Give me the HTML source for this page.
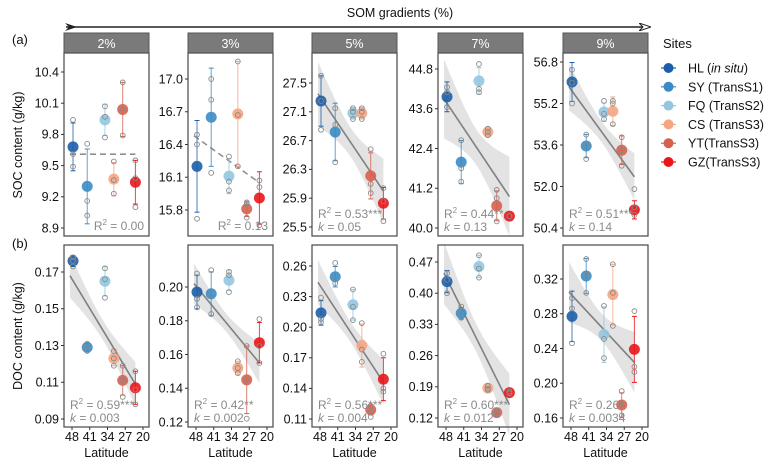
<!DOCTYPE html>
<html><head><meta charset="utf-8">
<style>
body{margin:0;background:#fff;}
svg text{font-family:"Liberation Sans",Arial,sans-serif;}
</style></head>
<body>
<svg id="chart" width="768" height="465" viewBox="0 0 768 465" xmlns="http://www.w3.org/2000/svg">
<defs>
<marker id="ah" markerWidth="12" markerHeight="8" refX="11" refY="4" orient="auto" markerUnits="userSpaceOnUse"><path d="M0,0 L12,4 L0,8 L4,4 Z" fill="#fff" stroke="#222" stroke-width="1"/></marker>
<marker id="at" markerWidth="12" markerHeight="8" refX="1" refY="4" orient="auto" markerUnits="userSpaceOnUse"><path d="M0,0 L12,4 L0,8 L4,4 Z" fill="#222"/></marker>
</defs>
<text x="400" y="17" font-size="12.5" text-anchor="middle" fill="#111">SOM gradients (%)</text>
<line x1="66" y1="27" x2="650" y2="27" stroke="#222" stroke-width="1.5" marker-end="url(#ah)" marker-start="url(#at)"/>
<text x="12" y="44" font-size="13" fill="#111">(a)</text>
<text x="12" y="248" font-size="13" fill="#111">(b)</text>
<text transform="translate(22,145) rotate(-90)" font-size="12.5" text-anchor="middle" fill="#111">SOC content (g/kg)</text>
<text transform="translate(22,336) rotate(-90)" font-size="12.5" text-anchor="middle" fill="#111">DOC content (g/kg)</text>
<g id="plots"></g>
<g id="legend"></g>
</svg>
<script>
const siteNames = ["HL","SY (TransS1)","FQ (TransS2)","CS (TransS3)","YT(TransS3)","GZ(TransS3)"];
const siteColors = ["#1d5ea8","#3b8cc4","#94c6e0","#f4a582","#d6604d","#e8161b"];
const siteLat = [47.6, 42, 35, 31.5, 28, 23];
const latTicks = [48,41,34,27,20];
const gradients = ["2%","3%","5%","7%","9%"];

// SOC (top row)
const socTicks = [[10.4,10.1,9.8,9.5,9.2,8.9],[17.0,16.7,16.4,16.1,15.8],[27.5,27.1,26.7,26.3,25.9,25.5],[44.8,43.6,42.4,41.2,40.0],[56.8,55.2,53.6,52.0,50.4]];
const socMeans = [[9.68,9.30,9.94,9.37,10.04,9.34],[16.20,16.65,16.11,16.68,15.81,15.91],[27.25,26.82,27.08,27.08,26.21,25.83],[43.96,41.99,44.44,42.90,40.67,40.36],[56.03,53.56,54.87,54.90,53.40,51.10]];
const socErr = [[0.23,0.36,0.15,0.16,0.26,0.21],[0.42,0.45,0.16,0.48,0.07,0.24],[0.35,0.40,0.08,0.08,0.32,0.22],[0.45,0.65,0.40,0.10,0.45,0.05],[0.75,0.45,0.35,0.55,0.55,0.35]];
const socRaw = [
 [[9.94,9.61,9.49],[9.71,9.16,9.02],[10.07,9.97,9.77],[9.54,9.36,9.23],[10.30,10.04,9.79],[9.55,9.38,9.10]],
 [[16.49,16.40,15.72],[17.00,16.81,16.14],[16.29,16.06,15.98],[17.16,16.67,16.20],[15.87,15.85,15.73],[16.07,16.01,15.66]],
 [[27.60,27.25,26.85],[27.15,26.92,26.40],[27.15,27.10,27.00],[27.15,27.10,27.00],[26.58,26.10,25.97],[26.04,25.86,25.58]],
 [[44.25,44.10,43.65],[42.65,41.80,41.40],[44.95,44.20,44.10],[43.00,42.90,42.80],[41.15,40.90,40.20],[40.36,40.36,40.36]],
 [[56.50,56.00,55.20],[54.00,53.60,53.06],[55.30,54.60,54.80],[55.30,55.20,54.40],[53.90,53.40,52.80],[51.90,51.20,50.90]]];
const socTrend = [[9.61,9.61],[16.48,16.05],[27.35,26.00],[43.90,40.95],[55.84,52.37]];
const socBand = [0,0,0.45,1.2,0.9];
const socR2 = ["0.00","0.13","0.53***","0.44**","0.51***"];
const socK = [null,null,"0.05","0.13","0.14"];

// DOC (bottom row)
const docTicks = [[0.17,0.15,0.13,0.11,0.09],[0.20,0.18,0.16,0.14,0.12],[0.26,0.23,0.20,0.17,0.14,0.11],[0.47,0.40,0.33,0.26,0.19,0.12],[0.32,0.28,0.24,0.20,0.16]];
const docMeans = [[0.176,0.129,0.165,0.123,0.111,0.107],[0.197,0.196,0.204,0.152,0.145,0.167],[0.214,0.2495,0.222,0.182,0.119,0.149],[0.426,0.355,0.460,0.187,0.132,0.177],[0.277,0.3235,0.256,0.302,0.175,0.239]];
const docErr = [[0.003,0.002,0.008,0.004,0.008,0.009],[0.010,0.013,0.006,0.004,0.020,0.012],[0.012,0.010,0.015,0.021,0.005,0.021],[0.025,0.013,0.025,0.004,0.004,0.003],[0.029,0.020,0.032,0.035,0.014,0.038]];
const docRaw = [
 [[0.178,0.176,0.173],[0.131,0.129,0.127],[0.172,0.166,0.156],[0.127,0.123,0.119],[0.119,0.111,0.102],[0.116,0.106,0.098]],
 [[0.208,0.193,0.188],[0.210,0.195,0.184],[0.209,0.207,0.197],[0.156,0.152,0.149],[0.165,0.145,0.122],[0.181,0.165,0.155]],
 [[0.229,0.208,0.205],[0.263,0.247,0.243],[0.237,0.220,0.207],[0.204,0.178,0.166],[0.123,0.117,0.112],[0.174,0.140,0.137]],
 [[0.445,0.430,0.400],[0.370,0.355,0.345],[0.485,0.455,0.435],[0.192,0.186,0.183],[0.136,0.130,0.128],[0.180,0.177,0.175]],
 [[0.298,0.286,0.246],[0.343,0.325,0.304],[0.289,0.251,0.229],[0.337,0.304,0.266],[0.191,0.175,0.163],[0.283,0.219,0.213]]];
const docTrend = [[0.168,0.109],[0.202,0.155],[0.244,0.146],[0.445,0.150],[0.305,0.224]];
const docBand = [0.012,0.012,0.022,0.07,0.035];
const docR2 = ["0.59***","0.42**","0.56***","0.60***","0.26*"];
const docK = ["0.003","0.002","0.004","0.012","0.0034"];

// layout (not data)
const NS="http://www.w3.org/2000/svg";
const panelLeft=[64,188,312,438,563], panelW=85;
const rows=[{top:53,bot:236,tickPx:[[72,228],[79,210],[83,227],[69,228],[62,228]]},
            {top:245,bot:427,tickPx:[[272,419],[287,422],[266,419],[262,418],[279,418]]}];
function el(tag,attrs,parent){const e=document.createElementNS(NS,tag);for(const k in attrs)e.setAttribute(k,attrs[k]);parent.appendChild(e);return e;}
const plots=document.getElementById('plots');
function xScale(p,lat){return panelLeft[p]+8+(48-lat)*71/28;}

function drawPanel(r,p,ticks,means,errs,raw,trend,band,r2,k,dashed){
  const row=rows[r];
  const t0=ticks[0], t1=ticks[ticks.length-1], px=row.tickPx[p];
  const y=v=>px[0]+(t0-v)*(px[1]-px[0])/(t0-t1);
  const x=l=>xScale(p,l);
  const g=el('g',{},plots);
  
  
  const L=panelLeft[p];
  if(r===0){
    const s=el('rect',{x:L,y:33,width:panelW,height:20,fill:'#7a7a7a',stroke:'#555','stroke-width':1},g);
    
    
    const st=el('text',{x:L+panelW/2,y:48,'font-size':12.5,fill:'#fff','text-anchor':'middle'},g);
    st.textContent=gradients[p];
    
    
  }
  // band
  const la=48.8, lb=siteLat[5];
  if(band>0){
    let up=[],dn=[];
    for(let i=0;i<=20;i++){
      const l=la+(lb-la)*i/20, f=i/20;
      const v=trend[0]+(trend[1]-trend[0])*f;
      const w=band*Math.sqrt(0.25+Math.pow((f-0.5)*2,2))/1.12;
      up.push(x(l).toFixed(1)+','+y(v+w).toFixed(1));
      dn.unshift(x(l).toFixed(1)+','+y(v-w).toFixed(1));
    }
    const b=el('polygon',{points:up.concat(dn).join(' '),fill:'#d9d9d9','fill-opacity':0.75},g);
    
    
  }
  // trend line
  const tl=el('line',{x1:x(la),y1:y(trend[0]),x2:x(lb),y2:y(trend[1]),stroke:'#808080','stroke-width':1.6},g);
  if(dashed){tl.setAttribute('stroke-dasharray','6,4');tl.setAttribute('stroke','#909090');}
  
  
  // sites
  for(let i=0;i<6;i++){
    const cx=x(siteLat[i]), c=siteColors[i];
    const eb=el('g',{},g);
    
    
    const hi=y(means[i]+errs[i]), lo=y(means[i]-errs[i]);
    el('line',{x1:cx,y1:hi,x2:cx,y2:lo,stroke:c,'stroke-width':1,'stroke-opacity':0.8},eb);
    el('line',{x1:cx-2.5,y1:hi,x2:cx+2.5,y2:hi,stroke:c,'stroke-width':1},eb);
    el('line',{x1:cx-2.5,y1:lo,x2:cx+2.5,y2:lo,stroke:c,'stroke-width':1},eb);
    const m=el('circle',{cx:cx,cy:y(means[i]),r:5.5,fill:c,'fill-opacity':0.9},g);
    
    
    for(const v of raw[i]){
      const rp=el('circle',{cx:cx,cy:y(v),r:2.4,fill:'none',stroke:'#888','stroke-width':0.9},g);
      
      
    }
  }
  // frame
  const fr=el('rect',{x:L,y:row.top,width:panelW,height:row.bot-row.top,fill:'none',stroke:'#555','stroke-width':1.3},g);
  
  
  // y ticks
  for(const t of ticks){
    const yy=y(t);
    el('line',{x1:L-3,y1:yy,x2:L,y2:yy,stroke:'#333','stroke-width':1},g);
    const tx=el('text',{x:L-5,y:yy+4.3,'font-size':12.5,'text-anchor':'end',fill:'#111'},g);
    tx.textContent=(r===0?t.toFixed(1):t.toFixed(2));
    
    
  }
  if(r===1){
    for(const t of latTicks){
      const xx=x(t);
      el('line',{x1:xx,y1:row.bot,x2:xx,y2:row.bot+3,stroke:'#333','stroke-width':1},g);
      const tx=el('text',{x:xx,y:row.bot+14,'font-size':12.5,'text-anchor':'middle',fill:'#111'},g);
      tx.textContent=t;
      
      
    }
    const xl=el('text',{x:L+panelW/2,y:row.bot+30,'font-size':12.5,'text-anchor':'middle',fill:'#111'},g);
    xl.textContent='Latitude';
    
    
  }
  // stats
  const hasK=k!==null;
  const rx=hasK?L+6:L+panelW-5;
  const r2t=el('text',{x:rx,y:hasK?row.bot-18:row.bot-6,'font-size':12,fill:'#8a8a8a','text-anchor':hasK?'start':'end'},g);
  r2t.innerHTML='R<tspan font-size="8" dy="-5">2</tspan><tspan dy="5"> = '+r2+'</tspan>';
  
  
  if(hasK){
    const kt=el('text',{x:rx,y:row.bot-5,'font-size':12,fill:'#8a8a8a'},g);
    kt.innerHTML='<tspan font-style="italic">k</tspan> = '+k;
    
    
  }
}
for(let p=0;p<5;p++){
  drawPanel(0,p,socTicks[p],socMeans[p],socErr[p],socRaw[p],socTrend[p],socBand[p],socR2[p],socK[p],p<2);
  drawPanel(1,p,docTicks[p],docMeans[p],docErr[p],docRaw[p],docTrend[p],docBand[p],docR2[p],docK[p],false);
}
// legend
const lg=document.getElementById('legend');
const lt=el('text',{x:663,y:48,'font-size':13,fill:'#111'},lg);
lt.textContent='Sites';


for(let i=0;i<6;i++){
  const yy=68+i*18.8;
  const e=el('g',{},lg);
  
  
  el('line',{x1:661,y1:yy,x2:676,y2:yy,stroke:siteColors[i],'stroke-width':1.2},e);
  el('circle',{cx:668.5,cy:yy,r:5,fill:siteColors[i]},e);
  const t=el('text',{x:688,y:yy+4.5,'font-size':12.5,fill:'#111'},e);
  if(i===0) t.innerHTML='HL (<tspan font-style="italic">in situ</tspan>)';
  else t.textContent=siteNames[i];
}
</script>
</body></html>
